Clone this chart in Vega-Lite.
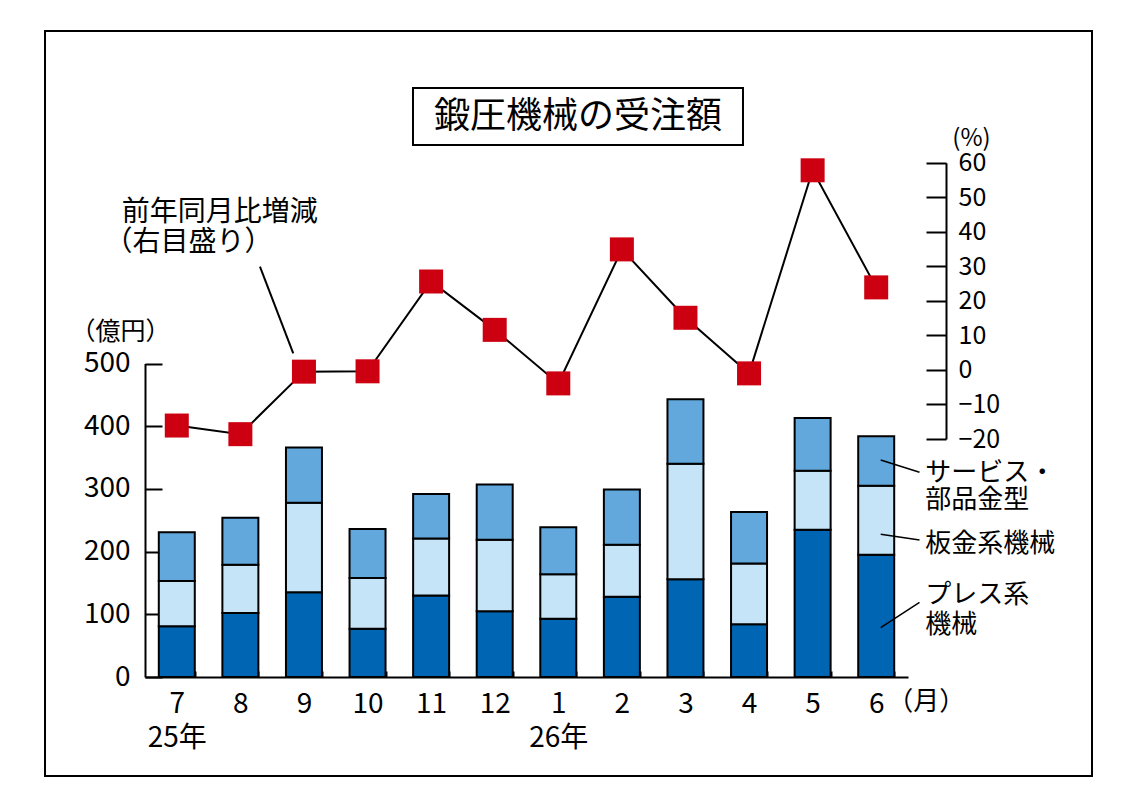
{
  "$schema": "https://vega.github.io/schema/vega-lite/v6.json",
  "width": 1047,
  "height": 745,
  "autosize": {"type": "none"},
  "padding": {"left": 45, "top": 31, "right": 42, "bottom": 32},
  "background": "white",
  "datasets": {
    "orders": [
      {"month": "7", "kind": "プレス系機械", "value": 81},
      {"month": "7", "kind": "板金系機械", "value": 72},
      {"month": "7", "kind": "サービス・部品金型", "value": 78},
      {"month": "8", "kind": "プレス系機械", "value": 102},
      {"month": "8", "kind": "板金系機械", "value": 77},
      {"month": "8", "kind": "サービス・部品金型", "value": 75},
      {"month": "9", "kind": "プレス系機械", "value": 135},
      {"month": "9", "kind": "板金系機械", "value": 143},
      {"month": "9", "kind": "サービス・部品金型", "value": 88},
      {"month": "10", "kind": "プレス系機械", "value": 77},
      {"month": "10", "kind": "板金系機械", "value": 81},
      {"month": "10", "kind": "サービス・部品金型", "value": 78},
      {"month": "11", "kind": "プレス系機械", "value": 130},
      {"month": "11", "kind": "板金系機械", "value": 91},
      {"month": "11", "kind": "サービス・部品金型", "value": 71},
      {"month": "12", "kind": "プレス系機械", "value": 105},
      {"month": "12", "kind": "板金系機械", "value": 114},
      {"month": "12", "kind": "サービス・部品金型", "value": 88},
      {"month": "1", "kind": "プレス系機械", "value": 93},
      {"month": "1", "kind": "板金系機械", "value": 71},
      {"month": "1", "kind": "サービス・部品金型", "value": 75},
      {"month": "2", "kind": "プレス系機械", "value": 128},
      {"month": "2", "kind": "板金系機械", "value": 83},
      {"month": "2", "kind": "サービス・部品金型", "value": 88},
      {"month": "3", "kind": "プレス系機械", "value": 156},
      {"month": "3", "kind": "板金系機械", "value": 184},
      {"month": "3", "kind": "サービス・部品金型", "value": 103},
      {"month": "4", "kind": "プレス系機械", "value": 84},
      {"month": "4", "kind": "板金系機械", "value": 97},
      {"month": "4", "kind": "サービス・部品金型", "value": 82},
      {"month": "5", "kind": "プレス系機械", "value": 235},
      {"month": "5", "kind": "板金系機械", "value": 94},
      {"month": "5", "kind": "サービス・部品金型", "value": 84},
      {"month": "6", "kind": "プレス系機械", "value": 195},
      {"month": "6", "kind": "板金系機械", "value": 110},
      {"month": "6", "kind": "サービス・部品金型", "value": 79}
    ],
    "yoy": [
      {"month": "7", "pct": -16.1},
      {"month": "8", "pct": -18.6},
      {"month": "9", "pct": -0.5},
      {"month": "10", "pct": -0.4},
      {"month": "11", "pct": 25.6},
      {"month": "12", "pct": 11.6},
      {"month": "1", "pct": -3.9},
      {"month": "2", "pct": 34.9},
      {"month": "3", "pct": 15.1},
      {"month": "4", "pct": -1.0},
      {"month": "5", "pct": 57.8},
      {"month": "6", "pct": 23.9}
    ],
    "keys": [
      {"month": "6", "value": 325.4, "label": "サービス・"},
      {"month": "6", "value": 282.3, "label": "部品金型"},
      {"month": "6", "value": 212.1, "label": "板金系機械"},
      {"month": "6", "value": 130.8, "label": "プレス系"},
      {"month": "6", "value": 82.9, "label": "機械"}
    ],
    "keyLeaders": [
      {"month": "6", "value": 346, "value2": 326.5},
      {"month": "6", "value": 227.6, "value2": 218.5},
      {"month": "6", "value": 78.6, "value2": 119.1}
    ],
    "headingBox": [
      {"month": "1", "value": 939.4, "value2": 848.5}
    ],
    "headingText": [
      {"month": "1", "value": 893.1, "label": "鍛圧機械の受注額"}
    ],
    "unit": [
      {"month": "6", "value": -39.9, "label": "（月）"}
    ],
    "note1": [
      {"month": "8", "pct": 45.3, "label": "前年同月比増減"}
    ],
    "note2": [
      {"month": "8", "pct": 36.7, "label": "（右目盛り）"}
    ],
    "noteLeader": [
      {"month": "9", "pct": 29.9, "pct2": 4.8}
    ]
  },
  "encoding": {
    "x": {
      "field": "month",
      "type": "ordinal",
      "scale": {
        "domain": ["7", "8", "9", "10", "11", "12", "1", "2", "3", "4", "5", "6"],
        "range": [100, 863],
        "paddingInner": 0.434,
        "paddingOuter": 0.217
      },
      "axis": {
        "orient": "bottom",
        "offset": -99,
        "title": null,
        "labelAngle": 0,
        "domainColor": "black",
        "domainWidth": 2,
        "tickColor": "black",
        "tickWidth": 2,
        "tickSize": -6,
        "tickBand": "extent",
        "tickExtra": true,
        "labelPadding": 19,
        "labelFontSize": 28,
        "labelLineHeight": 34,
        "labelColor": "black",
        "labelExpr": "datum.value == '7' ? ['7', '25年'] : datum.value == '1' ? ['1', '26年'] : datum.value"
      }
    }
  },
  "layer": [
    {
      "encoding": {
        "y": {
          "field": "value",
          "type": "quantitative",
          "scale": {"domain": [0, 500], "range": [646, 332.5], "nice": false, "zero": false},
          "axis": {
            "orient": "left",
            "offset": -100,
            "values": [0, 100, 200, 300, 400, 500],
            "grid": false,
            "domainColor": "black",
            "domainWidth": 2,
            "tickColor": "black",
            "tickWidth": 2,
            "tickSize": -17,
            "labelPadding": 32,
            "labelFontSize": 28,
            "labelColor": "black",
            "title": "（億円）",
            "titleAngle": 0,
            "titleX": -25,
            "titleY": 300,
            "titleAlign": "center",
            "titleBaseline": "middle",
            "titleFontSize": 25,
            "titleFontWeight": "normal",
            "titleColor": "black"
          }
        }
      },
      "layer": [
        {
          "data": {"name": "orders"},
          "transform": [
            {"calculate": "indexof(['プレス系機械', '板金系機械', 'サービス・部品金型'], datum.kind)", "as": "stackOrder"}
          ],
          "mark": {"type": "bar", "stroke": "black", "strokeWidth": 2},
          "encoding": {
            "color": {
              "field": "kind",
              "type": "nominal",
              "scale": {
                "domain": ["プレス系機械", "板金系機械", "サービス・部品金型"],
                "range": ["#0066b3", "#c6e4f7", "#62a8dc"]
              },
              "legend": null
            },
            "order": {"field": "stackOrder", "type": "quantitative", "sort": "ascending"}
          }
        },
        {
          "data": {"name": "keyLeaders"},
          "mark": {"type": "rule", "color": "black", "strokeWidth": 1.5, "xOffset": 4.5, "x2Offset": 43.3},
          "encoding": {
            "x2": {"field": "month"},
            "y2": {"field": "value2"}
          }
        },
        {
          "data": {"name": "keys"},
          "mark": {"type": "text", "align": "left", "baseline": "middle", "dx": 49, "fontSize": 26, "color": "black"},
          "encoding": {"text": {"field": "label"}}
        },
        {
          "data": {"name": "unit"},
          "mark": {"type": "text", "align": "left", "baseline": "middle", "dx": 11, "fontSize": 26, "color": "black"},
          "encoding": {"text": {"field": "label"}}
        },
        {
          "data": {"name": "headingBox"},
          "mark": {"type": "rect", "fill": "white", "stroke": "black", "strokeWidth": 2, "xOffset": -145.3, "x2Offset": 184.7},
          "encoding": {
            "x2": {"field": "month"},
            "y2": {"field": "value2"}
          }
        },
        {
          "data": {"name": "headingText"},
          "mark": {"type": "text", "align": "center", "baseline": "middle", "dx": 19.7, "fontSize": 36, "color": "black"},
          "encoding": {"text": {"field": "label"}}
        }
      ]
    },
    {
      "encoding": {
        "y": {
          "field": "pct",
          "type": "quantitative",
          "scale": {"domain": [-20, 60], "range": [408, 131.7], "nice": false, "zero": false},
          "axis": {
            "orient": "right",
            "offset": -146,
            "values": [-20, -10, 0, 10, 20, 30, 40, 50, 60],
            "grid": false,
            "domainColor": "black",
            "domainWidth": 2,
            "tickColor": "black",
            "tickWidth": 2,
            "tickSize": -20,
            "labelPadding": 32,
            "labelFontSize": 25,
            "labelColor": "black",
            "labelExpr": "datum.value < 0 ? '−' + abs(datum.value) : datum.label",
            "title": "(%)",
            "titleAngle": 0,
            "titleX": 25,
            "titleY": 107,
            "titleAlign": "center",
            "titleBaseline": "middle",
            "titleFontSize": 24,
            "titleFontWeight": "normal",
            "titleColor": "black"
          }
        }
      },
      "layer": [
        {
          "data": {"name": "yoy"},
          "mark": {"type": "line", "color": "black", "strokeWidth": 2}
        },
        {
          "data": {"name": "yoy"},
          "mark": {"type": "point", "shape": "square", "filled": true, "size": 576, "color": "#cc0011", "opacity": 1}
        },
        {
          "data": {"name": "noteLeader"},
          "mark": {"type": "rule", "color": "black", "strokeWidth": 2, "xOffset": -44, "x2Offset": -10.7},
          "encoding": {
            "x2": {"field": "month"},
            "y2": {"field": "pct2"}
          }
        },
        {
          "data": {"name": "note1"},
          "mark": {"type": "text", "align": "left", "baseline": "middle", "dx": -118.7, "fontSize": 28, "color": "black"},
          "encoding": {"text": {"field": "label"}}
        },
        {
          "data": {"name": "note2"},
          "mark": {"type": "text", "align": "left", "baseline": "middle", "dx": -136, "fontSize": 28, "color": "black"},
          "encoding": {"text": {"field": "label"}}
        }
      ]
    }
  ],
  "resolve": {"scale": {"y": "independent"}},
  "config": {
    "font": "Noto Sans CJK JP",
    "view": {"stroke": "black", "strokeWidth": 2},
    "axis": {"labelFont": "Noto Sans CJK JP", "titleFont": "Noto Sans CJK JP"},
    "text": {"font": "Noto Sans CJK JP"}
  }
}
